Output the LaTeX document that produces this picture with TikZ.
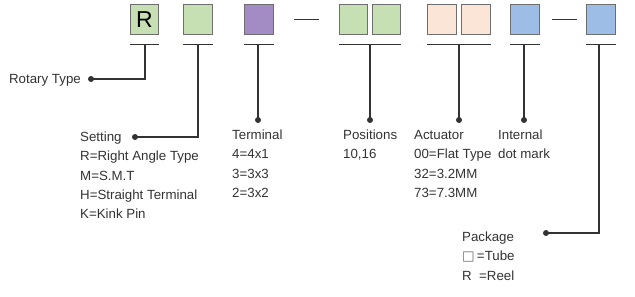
\documentclass[tikz,border=0pt]{standalone}
\usepackage{fontspec}
\setmainfont{Liberation Sans}
\newfontfamily\symfont{DejaVu Sans}
\usetikzlibrary{positioning}
\definecolor{ink}{HTML}{333333}
\definecolor{boxline}{HTML}{6E6E6E}
\definecolor{greenfill}{HTML}{C6E0B4}
\definecolor{purplefill}{HTML}{A38BC4}
\definecolor{peachfill}{HTML}{FBE5D6}
\definecolor{bluefill}{HTML}{9EBDE6}
\newcommand{\legendlines}[1]{\begin{tabular}[t]{@{}l@{}}#1\end{tabular}}
\tikzset{
  codebox/.style={draw=boxline,line width=1.1pt,minimum width=28.5pt,
                  minimum height=30.5pt,inner sep=0pt},
  greenbox/.style={codebox,fill=greenfill},
  purplebox/.style={codebox,fill=purplefill},
  peachbox/.style={codebox,fill=peachfill},
  bluebox/.style={codebox,fill=bluefill},
  bar/.style={draw=ink,line width=1.2pt},
  lead/.style={draw=ink,line width=1.2pt},
  dot/.style={circle,fill=ink,inner sep=0pt,minimum size=6pt},
  legend/.style={text=ink,inner sep=0pt,
                 font=\fontsize{13.3}{19.3}\selectfont}
}

\begin{document}
\begin{tikzpicture}[x=1pt,y=-1pt]
  \path[use as bounding box] (0,0) rectangle (635,297);

  % code boxes
  \node[greenbox,font=\fontsize{23}{23}\selectfont] (bR) at (144.5,19.5) {R};
  \node[greenbox] (bSet) at (198,19.5) {};
  \node[purplebox] (bTerm) at (259,19.5) {};
  \node[greenbox] (bPos1) at (353.5,19.5) {};
  \node[greenbox] (bPos2) at (386.5,19.5) {};
  \node[peachbox] (bAct1) at (442,19.5) {};
  \node[peachbox] (bAct2) at (476,19.5) {};
  \node[bluebox] (bDot) at (525,19.5) {};
  \node[bluebox] (bPack) at (601,19.5) {};

  \draw[lead] ([xshift=20pt]bTerm.east) -- ([xshift=-20pt]bPos1.west);
  \draw[lead] ([xshift=12pt]bDot.east) -- ([xshift=-9pt]bPack.west);

  % bars under each group
  \draw[bar] ([yshift=-9pt]bR.south west) -- ([yshift=-9pt]bR.south east);
  \draw[bar] ([yshift=-9pt]bSet.south west) -- ([yshift=-9pt]bSet.south east);
  \draw[bar] ([yshift=-9pt]bTerm.south west) -- ([yshift=-9pt]bTerm.south east);
  \draw[bar] ([yshift=-9pt]bPos1.south west) -- ([yshift=-9pt]bPos2.south east);
  \draw[bar] ([yshift=-9pt]bAct1.south west) -- ([yshift=-9pt]bAct2.south east);
  \draw[bar] ([yshift=-9pt]bDot.south west) -- ([yshift=-9pt]bDot.south east);
  \draw[bar] ([yshift=-9pt]bPack.south west) -- ([yshift=-9pt]bPack.south east);

  \coordinate (tR) at (145,44);
  \coordinate (tSet) at (198,44);
  \coordinate (tTerm) at (258,44);
  \coordinate (tPos) at (370,44);
  \coordinate (tAct) at (459,44);
  \coordinate (tDot) at (524,44);
  \coordinate (tPack) at (599,44);

  % dots
  \node[dot] (dR) at (91,79) {};
  \node[dot] (dSet) at (135,137) {};
  \node[dot] (dTerm) at (258,120) {};
  \node[dot] (dPos) at (370,120) {};
  \node[dot] (dAct) at (459,120) {};
  \node[dot] (dDot) at (524,120) {};
  \node[dot] (dPack) at (546,233) {};

  \draw[lead] (tR) |- (dR.center);
  \draw[lead] (tSet) |- (dSet.center);
  \draw[lead] (tTerm) -- (dTerm.center);
  \draw[lead] (tPos) -- (dPos.center);
  \draw[lead] (tAct) -- (dAct.center);
  \draw[lead] (tDot) -- (dDot.center);
  \draw[lead] (tPack) |- (dPack.center);

  % legends
  \node[legend,anchor=base east] (lRot) at (81,83) {Rotary Type};
  \node[legend,anchor=base west] (lSet) at (80,141.5)
    {\legendlines{Setting\\R=Right Angle Type\\M=S.M.T\\H=Straight Terminal\\K=Kink Pin}};
  \node[legend,anchor=base west] (lTerm) at (232,139.5)
    {\legendlines{Terminal\\4=4x1\\3=3x3\\2=3x2}};
  \node[legend,anchor=base west] (lPos) at (343,139.5)
    {\legendlines{Positions\\10,16}};
  \node[legend,anchor=base west] (lAct) at (414,139.5)
    {\legendlines{Actuator\\00=Flat Type\\32=3.2MM\\73=7.3MM}};
  \node[legend,anchor=base west] (lDot) at (498,139.5)
    {\legendlines{Internal\\dot mark}};
  \node[legend,anchor=base west] (lPack) at (462,241.5)
    {\legendlines{Package\\{\color{boxline}\symfont □}\,=Tube\\R\ \ =Reel}};
\end{tikzpicture}
\end{document}
